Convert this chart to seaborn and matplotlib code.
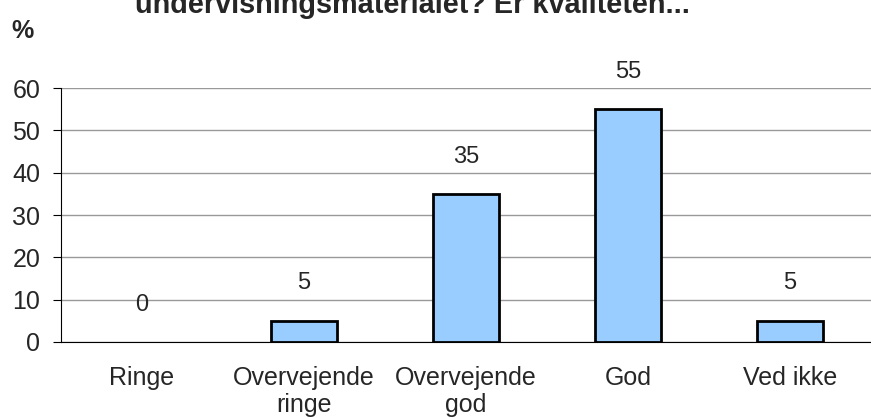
# Kvalitet af undervisningsmaterialet - søjlediagram i procent

import seaborn as sns
import matplotlib.pyplot as plt
import pandas as pd

# Data
categories = ["Ringe", "Overvejende\nringe", "Overvejende\ngod", "God", "Ved ikke"]
percent = [0, 5, 35, 55, 5]
y_ticks = [0, 10, 20, 30, 40, 50, 60]

df = pd.DataFrame({"svar": categories, "pct": percent})

sns.set_style("white")
plt.rcParams["font.family"] = ["Liberation Sans", "DejaVu Sans"]

fig = plt.figure(figsize=(8.71, 4.18), dpi=100)
ax = fig.add_axes([0.070, 0.182, 0.930, 0.607])

sns.barplot(data=df, x="svar", y="pct", color="#99CCFF", width=0.41,
            edgecolor="black", linewidth=2, saturation=1, ax=ax, zorder=3)

# en søjle på 0 tegnes ikke
for patch in ax.patches:
    if patch.get_height() == 0:
        patch.set_visible(False)

# Gitterlinjer som i Excel
ax.set_ylim(0, 60)
ax.set_yticks(y_ticks)
ax.yaxis.grid(True, color="#999999", linewidth=1, zorder=0)
ax.set_xlim(-0.5, len(categories) - 0.5)

for side in ["top", "right"]:
    ax.spines[side].set_visible(False)
ax.spines["left"].set_color("black")
ax.spines["bottom"].set_color("black")

# Værdier over søjlerne
for i, v in enumerate(percent):
    ax.annotate(str(v), (i, v), xytext=(0, 19), textcoords="offset points",
                ha="center", va="bottom", fontsize=17)

# Tick-mærker mellem kategorierne
ax.set_xticks([i + 0.5 for i in range(len(categories) - 1)], minor=True)
ax.tick_params(axis="x", which="major", length=0, labelsize=18, pad=17)
ax.tick_params(axis="x", which="minor", length=6, color="black", direction="out")
ax.tick_params(axis="y", length=6, color="black", labelsize=18, left=True, pad=9)

ax.set_xlabel("")
ax.set_ylabel("")

fig.text(0.013, 0.909, "%", fontsize=18, fontweight="bold", ha="left", va="baseline")
fig.text(0.473, 0.969, "undervisningsmaterialet? Er kvaliteten...", fontsize=20.8,
         fontweight="bold", ha="center", va="baseline")

fig.savefig("out.png", dpi=100)
